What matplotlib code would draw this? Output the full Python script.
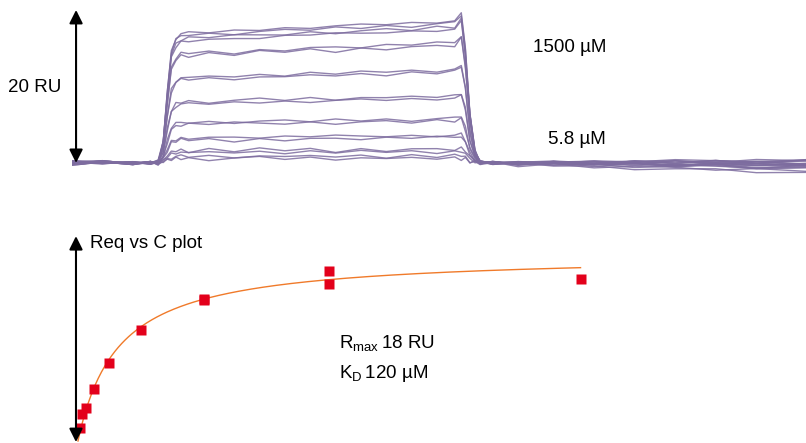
import numpy as np
import matplotlib
matplotlib.use("Agg")
import matplotlib.pyplot as plt

plt.rcParams['font.family'] = ['Liberation Sans', 'DejaVu Sans']
plt.rcParams['mathtext.fontset'] = 'custom'
plt.rcParams['mathtext.rm'] = 'Liberation Sans'

# =========================
# Data
# =========================
# sensorgram template: time (s) and fraction of the end-of-injection level
TIME = [0, 6, 12, 15.5, 17, 18, 18.8, 19.6, 20.5, 21.5, 23, 27, 32, 37, 42, 47, 52,
        57, 62, 67, 72, 75.5, 76.8, 77.6, 78.5, 79.5, 80.5, 83, 88, 95, 103, 111,
        119, 127, 135, 145]
SHAPE = [0, 0, 0, 0, 0.01, 0.15, 0.5, 0.78, 0.87, 0.9, 0.91, 0.915, 0.92, 0.93, 0.94,
         0.95, 0.955, 0.96, 0.97, 0.975, 0.985, 0.99, 1.05, 0.8, 0.35, 0.08, 0.01, 0,
         0, 0, 0, 0, 0, 0, 0, 0]
# small wiggles seen on the traces (RU)
WOBBLE = [0.1, -0.15, 0.2, 0.0, 0.3, 0.1, -0.1, 0.15, -0.2, 0.1, 0.2, -0.15, 0.25,
          -0.1, 0.15, -0.25, 0.1, 0.3, -0.1, 0.2, -0.2, 0.1, 0.0, 0.15, -0.1, 0.2,
          -0.3, 0.25, -0.2, 0.3, -0.1, 0.2, -0.35, 0.15, -0.25, 0.1]
# end-of-injection response of each trace (RU), duplicates per concentration
PLATEAU = [18.7, 18.4, 17.9, 17.6, 15.8, 15.5, 12.3, 12.0, 8.8, 8.5, 5.8, 5.5,
           3.6, 3.3, 1.8, 1.5, 0.9, 0.6]
# baseline drift after the injection (RU)
DRIFT = [-0.2, 0.1, -0.5, 0.2, -0.8, 0.0, -0.3, 0.3, -1.1, -0.1, -0.6, 0.2,
         -0.4, -1.4, 0.1, -0.2, -0.7, 0.3]

# steady-state plot
CONC = [1500, 750, 750, 375, 375, 187.5, 93.75, 46.9, 23.4, 11.7, 5.86]
REQ = [15.6, 16.3, 15.1, 13.6, 13.7, 10.7, 7.5, 5.0, 3.2, 2.6, 1.3]
RMAX = 18
KD = 120

W, H = 806, 443
fig = plt.figure(figsize=(W / 100, H / 100), dpi=100)


def px_axes(x0, y0, x1, y1):
    ax = fig.add_axes([x0 / W, 1 - y1 / H, (x1 - x0) / W, (y1 - y0) / H])
    ax.axis('off')
    return ax


arrow_props = dict(arrowstyle='<|-|>', color='black', lw=1.5,
                   mutation_scale=20, shrinkA=0, shrinkB=0)

# =========================
# Sensorgrams
# =========================
ax1 = px_axes(72, 5, 806, 185)
t = np.array(TIME)
shape = np.array(SHAPE)
wob = np.array(WOBBLE)
after = (t > 80).astype(float) * np.clip((t - 80) / 65, 0, 1)
for i, p in enumerate(PLATEAU):
    w = np.roll(wob, 4 * i) * (0.7 + 0.15 * (i % 3))
    y = p * shape + w + DRIFT[i] * after
    ax1.plot(t, y, color='#7d6c9f', lw=1.0, alpha=0.85)
ax1.set_xlim(0, 144.8)
ax1.set_ylim(-2.88, 20.65)

ax1.annotate('', xy=(0.8, 20), xytext=(0.8, 0), arrowprops=arrow_props,
             annotation_clip=False)

# =========================
# Req vs C
# =========================
ax2 = px_axes(72, 228, 806, 443)
c = np.linspace(0, 1500, 300)
ax2.plot(c, RMAX * c / (KD + c), color='#f07a2a', lw=1.0)
ax2.plot(CONC, REQ, 's', color='#e3001b', ms=7, mec='none')
ax2.set_xlim(-17.9, 2173)
ax2.set_ylim(-0.19, 20.48)
ax2.annotate('', xy=(-6, 19.7), xytext=(-6, -0.1), arrowprops=arrow_props,
             annotation_clip=False)

# =========================
# Labels
# =========================
fs = 13.5
fig.text(8 / W, 1 - 88 / H, '20 RU', fontsize=fs, va='center', ha='left')
fig.text(533 / W, 1 - 47 / H, '1500 µM', fontsize=fs, va='center', ha='left')
fig.text(548 / W, 1 - 140 / H, '5.8 µM', fontsize=fs, va='center', ha='left')
fig.text(90 / W, 1 - 243 / H, 'Req vs C plot', fontsize=fs, va='center', ha='left')
fig.text(339 / W, 1 - 344 / H, r'R$_{\mathrm{max}}\,$18 RU', fontsize=fs,
         va='center', ha='left')
fig.text(339 / W, 1 - 373 / H, r'K$_{\mathrm{D}}\,$120 µM', fontsize=fs,
         va='center', ha='left')

plt.savefig('out.png', dpi=100)
